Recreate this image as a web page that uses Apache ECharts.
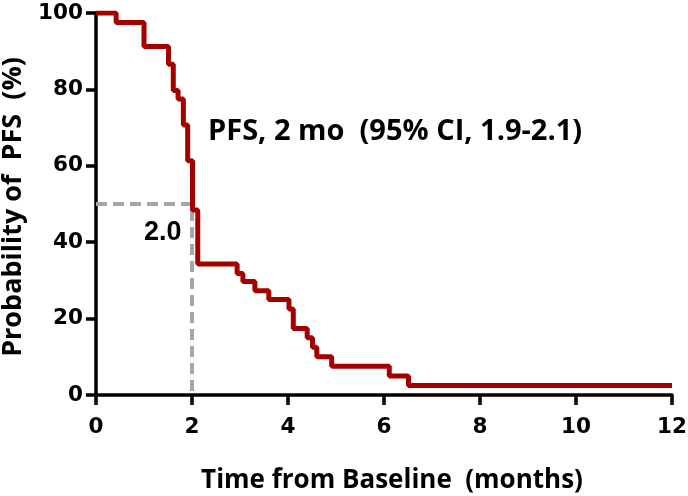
<!DOCTYPE html>
<html><head><meta charset="utf-8">
<script src="https://cdn.jsdelivr.net/npm/echarts@6/dist/echarts.min.js"></script>
<style>html,body{margin:0;padding:0;background:#fff}#c{width:688px;height:496px}</style>
</head><body><div id="c"></div>
<script>
const times = [0, 0.42, 1.0, 1.51, 1.61, 1.71, 1.82, 1.91, 2.01, 2.12, 2.94, 3.06, 3.31, 3.6, 4.02, 4.11, 4.4, 4.51, 4.6, 4.91, 6.11, 6.51, 12];
const survival = [100, 97.5, 91.2, 86.6, 79.7, 77.5, 70.7, 61.3, 48.4, 34.3, 31.8, 29.7, 27.3, 25.0, 22.5, 17.4, 15.0, 12.5, 10.0, 7.5, 5.0, 2.5, 2.5];
const medianX = [0, 2, 2];
const medianY = [50, 50, 0];
const xTicks = [0, 2, 4, 6, 8, 10, 12];
const yTicks = [0, 20, 40, 60, 80, 100];
const annotation = 'PFS, 2 mo  (95% CI, 1.9-2.1)';
const medianLabel = '2.0';
const xTitle = 'Time from Baseline  (months)';
const yTitle = 'Probability of  PFS  (%)';

const chart = echarts.init(document.getElementById('c'));
const tickFont = {fontFamily: '"DejaVu Sans"', fontWeight: 'bold', fontSize: 21.5, color: '#000'};
const titleFamily = '"Open Sans", "Noto Sans CJK SC"';
chart.setOption({
  animation: false,
  grid: {left: 96, right: 16, top: 13, bottom: 101, containLabel: false, outerBoundsMode: 'none'},
  xAxis: {
    type: 'value', min: 0, max: 12, interval: 2,
    axisLine: {lineStyle: {color: '#000', width: 3.5}},
    axisTick: {show: true, length: 10, lineStyle: {color: '#000', width: 3.5}},
    axisLabel: Object.assign({margin: 21, formatter: v => xTicks.includes(v) ? String(v) : ''}, tickFont),
    splitLine: {show: false},
    name: xTitle, nameLocation: 'middle', nameGap: 73,
    nameTextStyle: {fontFamily: titleFamily, fontWeight: 'bold', fontSize: 26, lineHeight: 26, color: '#000', padding: [0, 0, 0, 16]}
  },
  yAxis: {
    type: 'value', min: 0, max: 100, interval: 20,
    axisLine: {show: true, lineStyle: {color: '#000', width: 3.5}},
    axisTick: {show: true, length: 10, lineStyle: {color: '#000', width: 3.5}},
    axisLabel: Object.assign({margin: 13, formatter: v => yTicks.includes(v) ? String(v) : ''}, tickFont),
    splitLine: {show: false},
    name: yTitle, nameLocation: 'middle', nameGap: 67,
    nameTextStyle: {fontFamily: titleFamily, fontWeight: 'bold', fontSize: 27, lineHeight: 27, color: '#000', padding: [0, 6, 0, 0]}
  },
  series: [
    {
      type: 'line', data: medianX.map((x, i) => [x, medianY[i]]),
      symbol: 'none', lineStyle: {color: '#a6a6a6', width: 4, type: [11, 6]}, z: 1
    },
    {
      type: 'line', step: 'end', data: times.map((t, i) => [t, survival[i]]),
      symbol: 'none', lineStyle: {color: '#a50000', width: 5}, z: 2
    }
  ],
  graphic: [
    {type: 'text', x: 208, y: 132, style: {text: annotation, font: 'bold 29px "Open Sans"', fill: '#000', textAlign: 'left', textVerticalAlign: 'middle'}},
    {type: 'text', x: 144, y: 233, style: {text: medianLabel, font: 'bold 27px "Liberation Sans", Arial', fill: '#000', textAlign: 'left', textVerticalAlign: 'middle'}}
  ]
});
</script></body></html>
